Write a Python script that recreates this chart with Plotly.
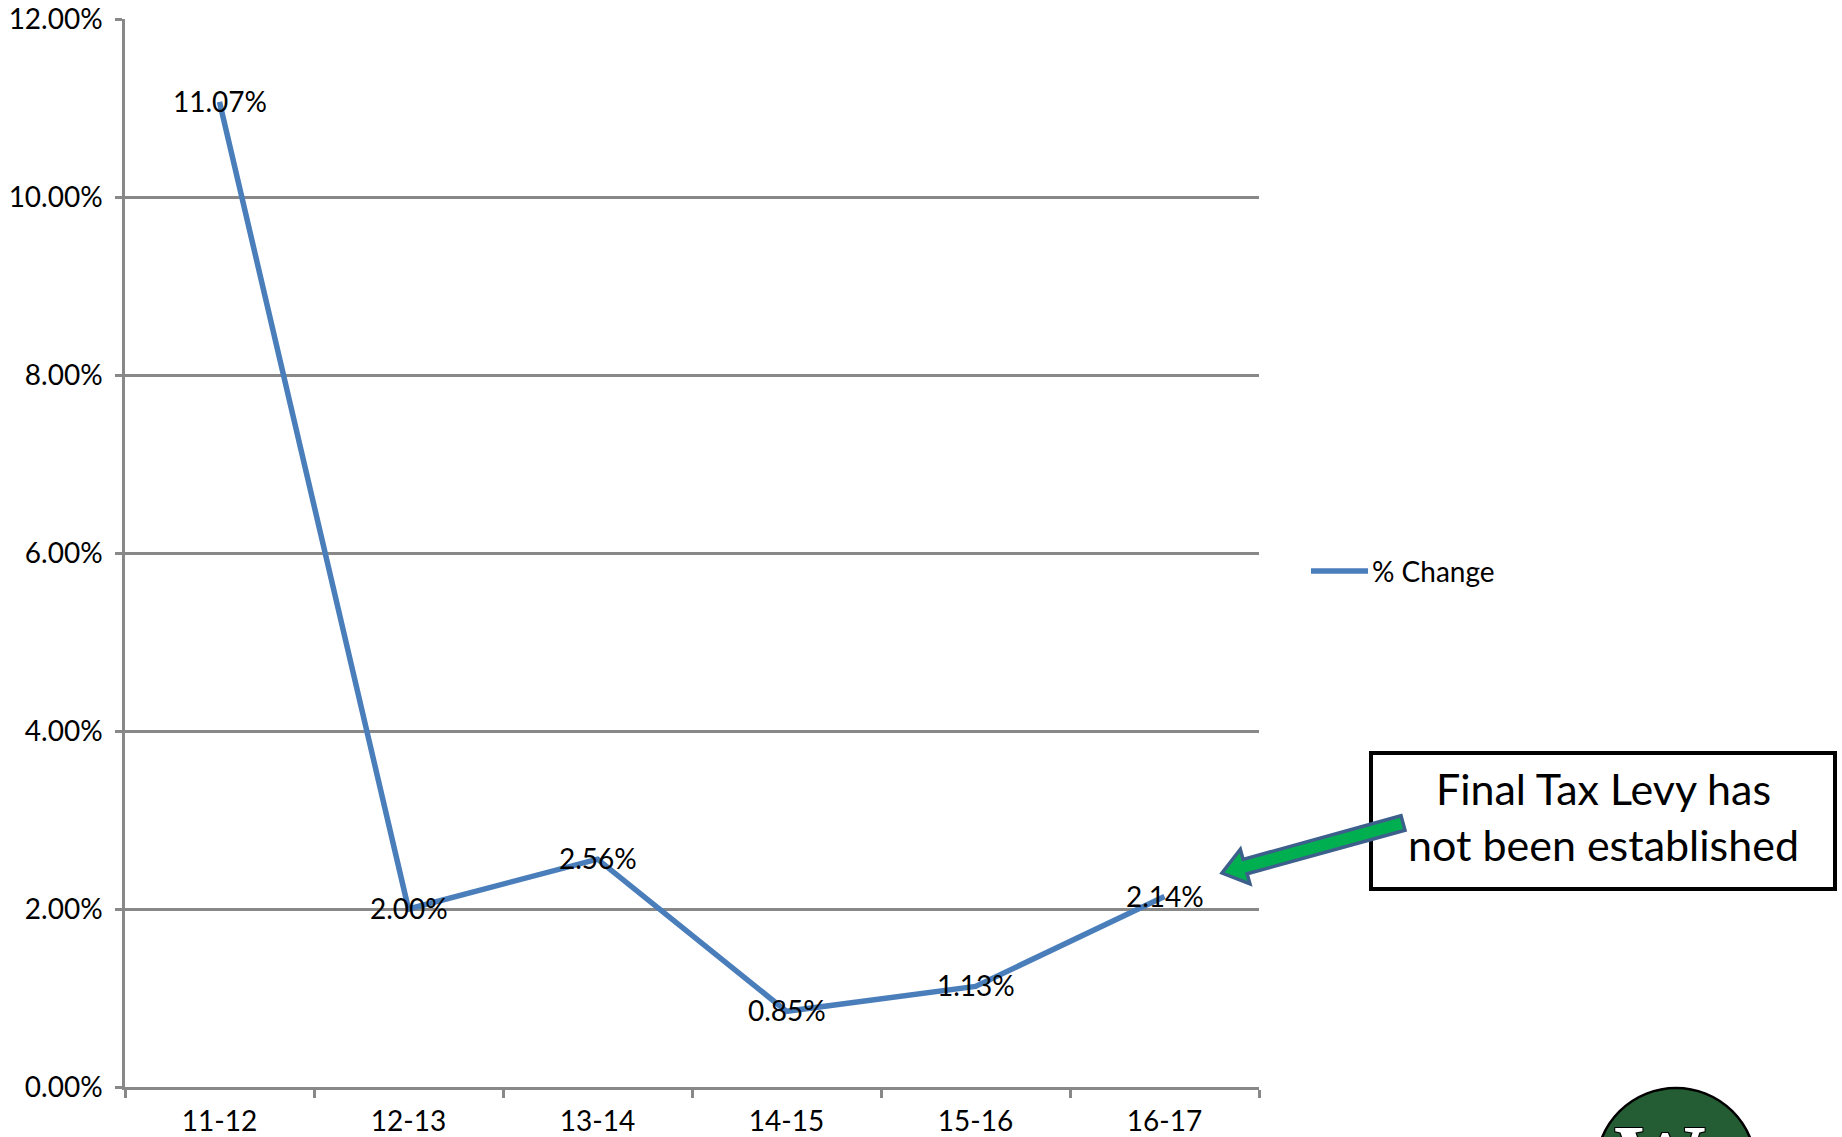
import plotly.graph_objects as go

# Annual percentage change of the tax levy
years = ["11-12", "12-13", "13-14", "14-15", "15-16", "16-17"]
pct_change = [0.1107, 0.0200, 0.0256, 0.0085, 0.0113, 0.0214]
y_ticks = [0.00, 0.02, 0.04, 0.06, 0.08, 0.10, 0.12]

series_name = "% Change"
note_text = "Final Tax Levy has<br>not been established"

FIG_W, FIG_H = 1842, 1137
M_L, M_R, M_T, M_B = 125, 583, 19, 50
PLOT_W = FIG_W - M_L - M_R
PLOT_H = FIG_H - M_T - M_B

LINE_BLUE = "#4A7EBB"
GRID_GREY = "#888888"
FONT = "Lato"
FS = 28


def px_x(x):
    """Pixel column -> paper x."""
    return (x - M_L) / PLOT_W


def px_y(y):
    """Pixel row -> paper y."""
    return (FIG_H - M_B - y) / PLOT_H


fig = go.Figure()

fig.add_trace(go.Scatter(
    x=years,
    y=pct_change,
    mode="lines",
    name=series_name,
    line=dict(color=LINE_BLUE, width=5.5),
    cliponaxis=False,
    showlegend=False,
))

# data labels centred on each point
annotations = [
    dict(
        x=yr, y=v, xref="x", yref="y",
        text=f"{v * 100:.2f}%", showarrow=False,
        xanchor="center", yanchor="middle", yshift=1,
        font=dict(family=FONT, size=FS, color="black"),
    )
    for yr, v in zip(years, pct_change)
]

shapes = []

# legend key
shapes.append(dict(
    type="line", xref="paper", yref="paper",
    x0=px_x(1311), x1=px_x(1368), y0=px_y(571), y1=px_y(571),
    line=dict(color=LINE_BLUE, width=5.5),
))

# note box
shapes.append(dict(
    type="rect", xref="paper", yref="paper",
    x0=px_x(1371), x1=px_x(1835), y0=px_y(753), y1=px_y(889),
    line=dict(color="black", width=4), fillcolor="white",
))

# block arrow pointing from the note box toward the last point
tail = (1403.0, 823.0)
tip = (1222.0, 873.0)
dx, dy = tip[0] - tail[0], tip[1] - tail[1]
length = (dx * dx + dy * dy) ** 0.5
ux, uy = dx / length, dy / length
nx, ny = -uy, ux
shaft_hw, head_hw, head_len = 7.5, 18.0, 24.0
bx, by = tip[0] - ux * head_len, tip[1] - uy * head_len
pts = [
    (tail[0] + nx * shaft_hw, tail[1] + ny * shaft_hw),
    (bx + nx * shaft_hw, by + ny * shaft_hw),
    (bx + nx * head_hw, by + ny * head_hw),
    tip,
    (bx - nx * head_hw, by - ny * head_hw),
    (bx - nx * shaft_hw, by - ny * shaft_hw),
    (tail[0] - nx * shaft_hw, tail[1] - ny * shaft_hw),
]
path = "M " + " L ".join(f"{px_x(x):.5f},{px_y(y):.5f}" for x, y in pts) + " Z"
shapes.append(dict(
    type="path", xref="paper", yref="paper", path=path,
    fillcolor="#00B050", line=dict(color="#3C5F8C", width=3.5),
))

# school logo badge
cx, cy, r = 1676, 1168, 80
shapes.append(dict(
    type="circle", xref="paper", yref="paper",
    x0=px_x(cx - r), x1=px_x(cx + r), y0=px_y(cy + r), y1=px_y(cy - r),
    fillcolor="#245C33", line=dict(color="black", width=2.5),
))

annotations += [
    dict(
        x=px_x(1370), y=px_y(571), xref="paper", yref="paper",
        text=series_name, showarrow=False, xanchor="left", yanchor="middle",
        font=dict(family=FONT, size=FS, color="black"),
    ),
    dict(
        x=px_x(1603), y=px_y(817), xref="paper", yref="paper",
        text=note_text, showarrow=False, xanchor="center", yanchor="middle",
        align="center",
        font=dict(family=FONT, size=43, color="black"),
    ),
    dict(
        x=px_x(1660), y=px_y(1104), xref="paper", yref="paper",
        text="<b>W</b>", showarrow=False, xanchor="center", yanchor="top",
        font=dict(family="Liberation Serif", size=92, color="white",
                  shadow="1px 1px 0 black, -1px -1px 0 black, 1px -1px 0 black, -1px 1px 0 black"),
    ),
]

fig.update_layout(
    width=FIG_W, height=FIG_H,
    margin=dict(l=M_L, r=M_R, t=M_T, b=M_B, pad=0, autoexpand=False),
    paper_bgcolor="white", plot_bgcolor="white",
    font=dict(family=FONT, size=FS, color="black"),
    shapes=shapes,
    annotations=annotations,
    showlegend=False,
)

fig.update_xaxes(
    type="category",
    range=[-0.5, len(years) - 0.5],
    automargin=False,
    showline=True, linecolor=GRID_GREY, linewidth=2.5,
    showgrid=False,
    ticks="outside", tickson="boundaries", ticklen=8, tickwidth=2.5, tickcolor=GRID_GREY,
    tickfont=dict(family=FONT, size=FS, color="black"),
    ticklabelstandoff=8,
)

fig.update_yaxes(
    range=[0, 0.12],
    automargin=False,
    tickvals=y_ticks, tickformat=".2%",
    showline=True, linecolor=GRID_GREY, linewidth=2.5,
    showgrid=True, gridcolor=GRID_GREY, gridwidth=2.5,
    zeroline=False,
    ticks="outside", ticklen=7, tickwidth=2.5, tickcolor=GRID_GREY,
    tickfont=dict(family=FONT, size=FS, color="black"),
    ticklabelstandoff=7,
)

fig.write_html("out.html")
